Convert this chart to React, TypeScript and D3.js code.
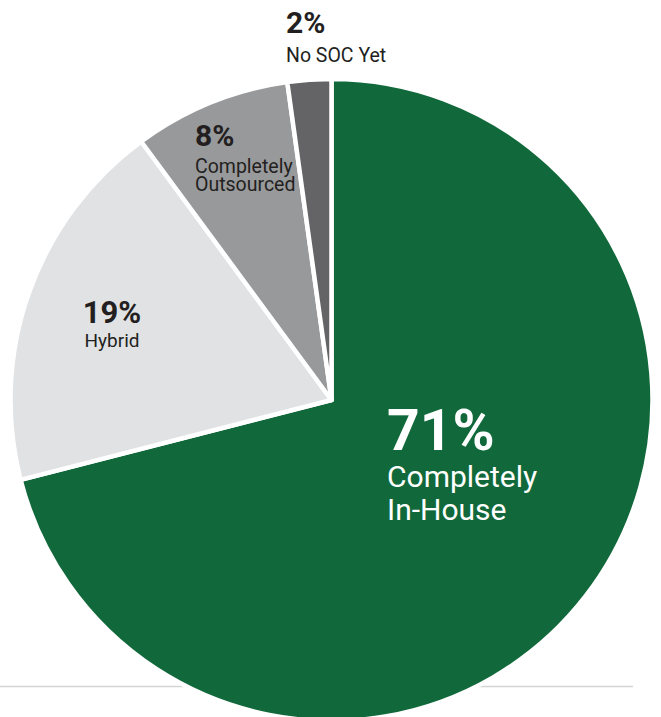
import React from "react";
import * as d3 from "d3";

const categories = ["Completely In-House", "Hybrid", "Completely Outsourced", "No SOC Yet"];
const values = [71.0, 18.9, 7.9, 2.2];
const percentLabels = ["71%", "19%", "8%", "2%"];
const nameLines = [["Completely", "In-House"], ["Hybrid"], ["Completely", "Outsourced"], ["No SOC Yet"]];
const colors = ["#11693b", "#e1e2e4", "#98999b", "#646466"];

const W = 661;
const H = 717;
const cx = 331.5;
const cy = 400;
const R = 321;

// label layout (positions/styles only)
const labelLayout = [
  { x: 387, y: 450, anchor: "start", pSize: 57, nSize: 30, lines: [487, 520], fill: "#ffffff" },
  { x: 112, y: 323, anchor: "middle", pSize: 31, nSize: 19, lines: [347], fill: "#231f20" },
  { x: 195, y: 146, anchor: "start", pSize: 30, nSize: 19.5, lines: [173, 191], fill: "#231f20" },
  { x: 286, y: 33, anchor: "start", pSize: 30, nSize: 19.5, lines: [62], fill: "#231f20" },
];

export default function App() {
  const pie = d3.pie<number>().sort(null).value((d) => d);
  const arcs = pie(values);
  const arc = d3.arc<d3.PieArcDatum<number>>().innerRadius(0).outerRadius(R);

  return (
    <svg width={W} height={H} style={{ position: "absolute", left: 0, top: 0, background: "#fff" }}>
      <line x1={0} x2={633} y1={686.5} y2={686.5} stroke="#d4d4d4" strokeWidth={1.5} />
      <g transform={`translate(${cx},${cy})`}>
        {arcs.map((a, i) => (
          <path key={categories[i]} d={arc(a) || ""} fill={colors[i]} stroke="#ffffff" strokeWidth={4.5} strokeLinejoin="round" />
        ))}
      </g>
      {labelLayout.map((l, i) => (
        <g key={"lbl" + i} fill={l.fill} fontFamily="Roboto, 'Noto Sans', sans-serif" textAnchor={l.anchor}>
          <text x={l.x} y={l.y} fontSize={l.pSize} fontWeight={700}>
            {percentLabels[i]}
          </text>
          {nameLines[i].map((line, j) => (
            <text key={j} x={l.x} y={l.lines[j]} fontSize={l.nSize} fontWeight={400}>
              {line}
            </text>
          ))}
        </g>
      ))}
    </svg>
  );
}
